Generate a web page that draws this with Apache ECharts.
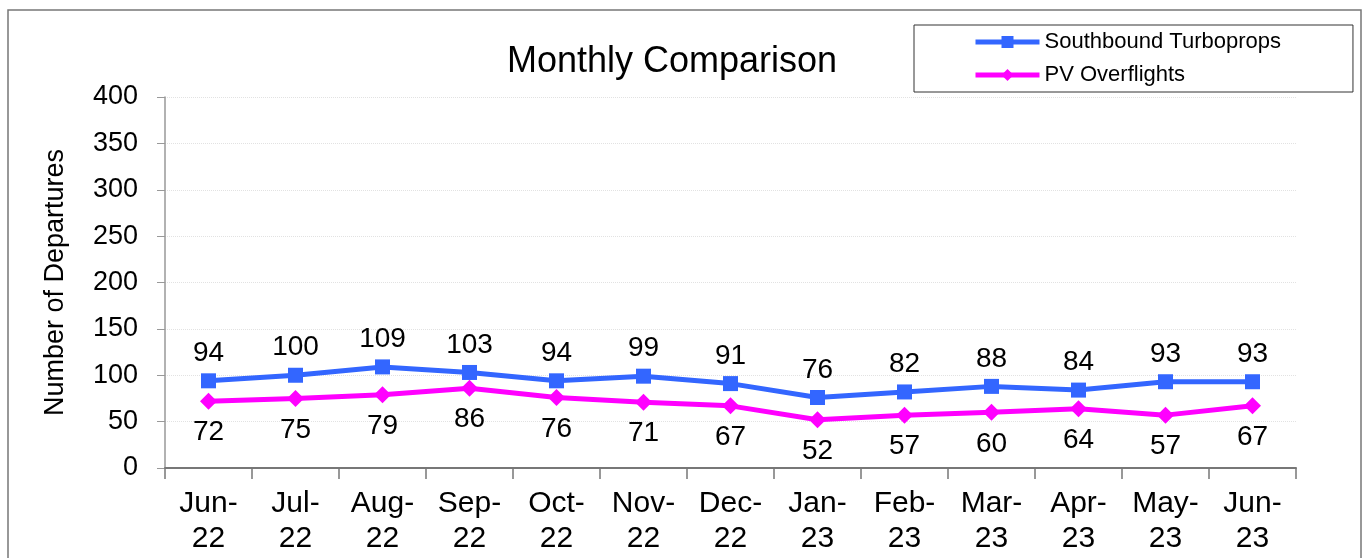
<!DOCTYPE html>
<html>
<head>
<meta charset="utf-8">
<script src="https://cdn.jsdelivr.net/npm/echarts@6/dist/echarts.min.js"></script>
<style>
  html, body { margin: 0; padding: 0; background: #fff; }
  #chart { width: 1364px; height: 558px; }
</style>
</head>
<body>
<div id="chart"></div>
<script>
const months = ["Jun-\n22", "Jul-\n22", "Aug-\n22", "Sep-\n22", "Oct-\n22", "Nov-\n22", "Dec-\n22",
  "Jan-\n23", "Feb-\n23", "Mar-\n23", "Apr-\n23", "May-\n23", "Jun-\n23"];
const southbound = [94, 100, 109, 103, 94, 99, 91, 76, 82, 88, 84, 93, 93];
const overflights = [72, 75, 79, 86, 76, 71, 67, 52, 57, 60, 64, 57, 67];

const FONT = "Liberation Sans, Arial, sans-serif";

const chart = echarts.init(document.getElementById("chart"));

chart.setOption({
  backgroundColor: "#fff",
  animation: false,
  textStyle: { fontFamily: FONT, color: "#000" },
  graphic: [
    {
      type: "rect",
      shape: { x: 8, y: 10, width: 1353, height: 560 },
      style: { fill: "none", stroke: "#777", lineWidth: 1.5 }
    }
  ],
  title: {
    text: "Monthly Comparison",
    left: 667,
    top: 39,
    textAlign: "center",
    textStyle: { fontFamily: FONT, fontSize: 36, fontWeight: "normal", color: "#000" }
  },
  legend: {
    left: 914,
    top: 25,
    orient: "vertical",
    borderColor: "#333",
    borderWidth: 1,
    padding: [6, 72, 6, 59],
    itemWidth: 64,
    itemHeight: 15,
    itemGap: 11,
    lineStyle: { width: 5 },
    textStyle: { fontFamily: FONT, fontSize: 22, color: "#000" },
    data: ["Southbound Turboprops", "PV Overflights"]
  },
  grid: { left: 165, right: 68, top: 97, bottom: 90 },
  xAxis: {
    type: "category",
    data: months,
    boundaryGap: true,
    axisLine: { lineStyle: { color: "#777", width: 2 } },
    axisTick: { show: true, length: 11, interval: 0, lineStyle: { color: "#777", width: 1.5 } },
    axisLabel: { interval: 0, fontFamily: FONT, fontSize: 30, lineHeight: 35, color: "#000", margin: 18 }
  },
  yAxis: {
    type: "value",
    min: 0,
    max: 400,
    interval: 50,
    name: "Number of Departures",
    nameLocation: "middle",
    nameRotate: 90,
    nameGap: 96,
    nameTextStyle: { fontFamily: FONT, fontSize: 27, color: "#000" },
    axisLine: { show: true, lineStyle: { color: "#999", width: 1.5 } },
    axisTick: { show: true, inside: false, length: 8, lineStyle: { color: "#999" } },
    axisLabel: { fontFamily: FONT, fontSize: 27, color: "#000", margin: 27 },
    splitLine: { show: true, lineStyle: { color: "#e2e2e2", width: 1, type: "dotted" } }
  },
  series: [
    {
      name: "Southbound Turboprops",
      type: "line",
      data: southbound,
      symbol: "rect",
      symbolSize: 15,
      lineStyle: { color: "#3366FF", width: 5 },
      itemStyle: { color: "#3366FF" },
      label: {
        show: true,
        position: "top",
        distance: 6,
        fontFamily: FONT,
        fontSize: 28,
        color: "#000"
      }
    },
    {
      name: "PV Overflights",
      type: "line",
      data: overflights,
      symbol: "diamond",
      symbolSize: 17,
      lineStyle: { color: "#FF00FF", width: 5 },
      itemStyle: { color: "#FF00FF" },
      label: {
        show: true,
        position: "bottom",
        distance: 9,
        fontFamily: FONT,
        fontSize: 28,
        color: "#000"
      }
    }
  ]
});
</script>
</body>
</html>
